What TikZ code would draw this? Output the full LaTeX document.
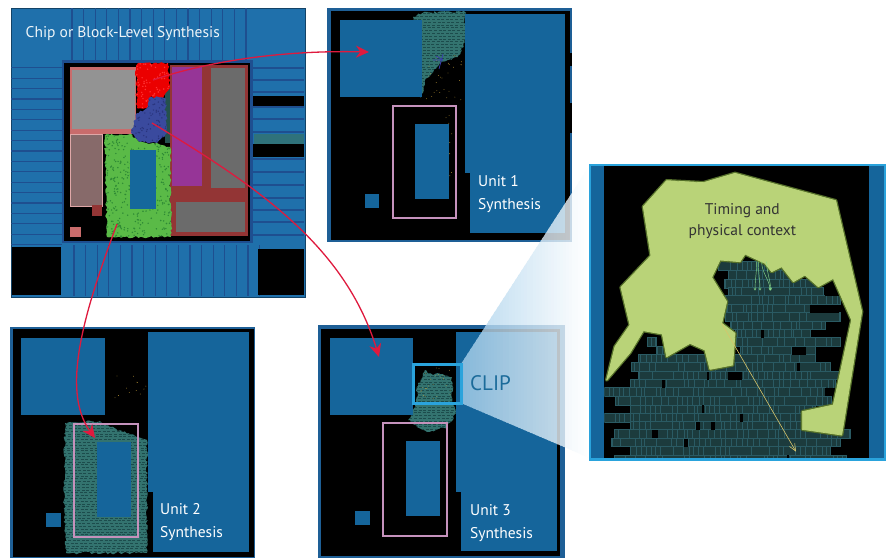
\documentclass[tikz,border=0pt]{standalone}
\usepackage{fontspec}
\setmainfont{PT Sans}
\usetikzlibrary{arrows.meta,decorations.pathmorphing}
\definecolor{chipblue}{HTML}{1F70AB}
\definecolor{chipline}{HTML}{1E4F90}
\definecolor{macroblue}{HTML}{15659B}
\definecolor{framepink}{HTML}{C592BC}
\definecolor{teal1}{HTML}{33736F}
\definecolor{teal2}{HTML}{1C4C4C}
\definecolor{cellfill}{HTML}{1C3B3D}
\definecolor{cellline}{HTML}{2A5A63}
\definecolor{arrowred}{HTML}{DF1A3E}
\definecolor{clipcyan}{HTML}{2AA3DC}
\definecolor{ctxgreen}{HTML}{B9D378}
\definecolor{ctxedge}{HTML}{55702A}
\definecolor{brick}{HTML}{933535}
\definecolor{chipgray}{HTML}{6B6B6B}
\definecolor{paleband}{HTML}{C96C6C}
\definecolor{mauve}{HTML}{876A6A}
\definecolor{purpleblock}{HTML}{963597}
\definecolor{blueblob}{HTML}{3A4A9E}
\definecolor{blueblobd}{HTML}{2A357E}
\definecolor{greenblob}{HTML}{5ABA47}
\definecolor{greenblobd}{HTML}{2E8A35}
\definecolor{innerblue}{HTML}{15689C}
\definecolor{panelframe}{HTML}{1E5F96}
\definecolor{markblue}{HTML}{3A3AB0}
\definecolor{fanleft}{HTML}{A5CFEB}
\definecolor{cliptext}{HTML}{1B6B9A}
\definecolor{pathyellow}{HTML}{D8C46A}
\definecolor{pathgreen}{HTML}{86D98A}
\definecolor{ctxtext}{HTML}{333333}
\definecolor{speck}{HTML}{C9A13A}
\tikzset{
  macro/.style={fill=macroblue},
  pinkframe/.style={draw=framepink,line width=1.1pt},
  panellabel/.style={text=white,font=\fontsize{15.5}{23}\selectfont,align=left,anchor=west,inner sep=0pt},
  redarrow/.style={draw=arrowred,line width=1.3pt,-{Stealth[length=13pt,width=12pt]}},
  rough/.style={decorate,decoration={random steps,segment length=2.2pt,amplitude=1.2pt}},
}
\newcommand{\tealcloud}[3]{%
  \begin{scope}
    \clip[rough] #1;
    \fill[teal1] (0,0) rectangle (886,558);
    \foreach \k in {0,...,#3}{%
      \pgfmathsetmacro\yy{#2+\k*2.8}%
      \pgfmathsetmacro\ph{random(0,5)}%
      \draw[teal2,line width=.7pt,dash pattern=on 3pt off 1.6pt,dash phase=\ph pt] (0,\yy) -- (886,\yy);
    }
  \end{scope}}
\newcommand{\blob}[8]{%
  \begin{scope}
    \clip[rough] #1;
    \fill[#2] (0,0) rectangle (886,558);
    \foreach \k in {1,...,#8}{%
      \pgfmathsetmacro\xx{#4+rnd*(#6-#4)}%
      \pgfmathsetmacro\yy{#5+rnd*(#7-#5)}%
      \fill[#3] (\xx,\yy) circle (.8pt);
    }
  \end{scope}}
\newcommand{\specks}[5]{%
  \foreach \k in {1,...,#5}{%
    \pgfmathsetmacro\xx{#1+rnd*(#3-#1)}%
    \pgfmathsetmacro\yy{#2+rnd*(#4-#2)}%
    \fill[speck] (\xx,\yy) circle (.4pt);
  }}
\begin{document}
\begin{tikzpicture}[x=1pt,y=-1pt]
\pgfmathsetseed{4242}
\useasboundingbox (0,0) rectangle (886,558);
\fill[white] (0,0) rectangle (886,558);

% ---------- Chip panel ----------
\fill[chipblue] (11,8) rectangle (305,297);
\draw[chipblue!60!black,line width=.6pt] (11,8) rectangle (305,297);
\foreach \k in {0,...,15}{\draw[chipline,line width=1.2pt] ({72+\k*11.6},8) -- ({72+\k*11.6},60);}
\foreach \k in {0,...,16}{\draw[chipline,line width=1.2pt] ({74+\k*11.6},245) -- ({74+\k*11.6},296);}
\foreach \k in {0,...,17}{\draw[chipline,line width=1.2pt] (11,{67.7+\k*10.4}) -- (62,{67.7+\k*10.4});}
\foreach \yy in {68,80,92,107,119,132,159,172,185,198,210,222,235}{\draw[chipline,line width=1.6pt] (253,\yy) -- (304,\yy);}
\fill[black] (252,96) rectangle (304,106);
\fill[black] (252,144) rectangle (304,157);
\fill[teal1!80!chipblue] (254,134) rectangle (304,144);
\fill[black] (12,247) rectangle (61,295);
\fill[black] (258,249) rectangle (304,295);
\fill[chipline] (62,60) rectangle (253,243);
\fill[black] (64,63) rectangle (250,241);
% macros of the chip
\fill[paleband] (70,67) rectangle (136,134);
\fill[gray!85!white] (72,70) rectangle (135,129);
\filldraw[fill=mauve,draw=paleband!60!white,line width=.5pt] (70,134) rectangle (102,206);
\fill[brick] (92,205) rectangle (102,216);
\fill[paleband] (70,227) rectangle (81,237);
\fill[brick] (170,65) rectangle (248,236);
\fill[purpleblock] (172,67) rectangle (202,186);
\fill[chipgray] (211,68) rectangle (245,188);
\fill[chipgray] (176,202) rectangle (245,232);
\fill[teal1!70!black] (165,88) rectangle (170,143);
\blob{(136,68) -- (138,63) -- (168,63) -- (170,87) -- (163,98) -- (150,97) -- (147,108) -- (137,108) -- cycle}{red!92!black}{red!80!white}{136}{63}{170}{108}{70}
\blob{(150,97) -- (165,98) -- (167,133) -- (157,143) -- (140,142) -- (131,133) -- (137,113) -- (147,108) -- cycle}{blueblob}{blueblobd}{131}{97}{167}{143}{90}
\blob{(105,135) -- (130,134) -- (139,142) -- (153,143) -- (170,147) -- (171,237) -- (107,237) -- cycle}{greenblob}{greenblobd}{105}{134}{171}{237}{350}
\fill[innerblue] (130,150) rectangle (156,209);
\node[text=white!92!chipblue,font=\fontsize{15.5}{19}\selectfont,anchor=west,inner sep=0pt] (chiplabel) at (25.5,34) {Chip or Block-Level Synthesis};

% ---------- Unit 1 ----------
\fill[panelframe] (327,8) rectangle (572,242);
\fill[black] (331,11) rectangle (570,240);
\fill[black] (570,53) rectangle (572,66);
\fill[black] (570,103) rectangle (572,133);
\tealcloud{(413,17) -- (424,12) -- (465,12) -- (465,42) -- (458,57) -- (440,63) -- (425,80) -- (421,98) -- cycle}{11}{32}
\specks{425}{55}{462}{100}{30}
\specks{445}{110}{452}{210}{10}
\draw[markblue,line width=.7pt] (433,60) -- (443,60) (439,69) -- (443,54) (443,60) -- (436,56);
\fill[macro] (340,20) rectangle (422,97);
\fill[macro] (465,14) rectangle (565,173);
\fill[macro] (470,173) rectangle (565,233);
\draw[pinkframe] (393,106) rectangle (456,218);
\fill[macro] (415,124) rectangle (449,199);
\fill[macro] (365,194) rectangle (379,208);
\node[panellabel] (unit1) at (478,194.5) {Unit 1\\Synthesis};

% ---------- Unit 2 ----------
\fill[panelframe] (10,327) rectangle (255,558);
\fill[black] (13,329) rectangle (254,557);
\tealcloud{(65,423) -- (100,421) -- (110,427) -- (128,433) -- (147,440) -- (147,553) -- (66,553) -- (64,500) -- cycle}{420}{49}
\specks{115}{372}{146}{400}{12}
\fill[macro] (21,338) rectangle (105,415);
\fill[macro] (148,332) rectangle (249,492);
\fill[macro] (153,492) rectangle (249,552);
\draw[pinkframe] (74,424) rectangle (138,537);
\fill[macro] (97,442) rectangle (131,517);
\fill[macro] (46,513) rectangle (61,527);
\node[panellabel] (unit2) at (160,522) {Unit 2\\Synthesis};

% ---------- Unit 3 ----------
\fill[panelframe] (318,325) rectangle (565,558);
\fill[black] (321,329) rectangle (560,556);
\tealcloud{(425,370) -- (433,375) -- (438,373) -- (452,377) -- (452,403) -- (456,413) -- (447,427) -- (427,432) -- (408,420) -- (417,403) -- (417,387) -- cycle}{368}{23}
\specks{420}{365}{452}{400}{24}
\fill[macro] (330,338) rectangle (413,415);
\fill[macro] (456,332) rectangle (557,492);
\fill[macro] (461,492) rectangle (557,551);
\draw[pinkframe] (383,423) rectangle (447,536);
\fill[macro] (406,441) rectangle (440,516);
\fill[macro] (355,511) rectangle (370,525);
\node[panellabel] (unit3) at (470,523) {Unit 3\\Synthesis};

% ---------- Zoom fan ----------
\coordinate (fanA) at (461,364);
\coordinate (fanB) at (461,403);
\coordinate (fanC) at (590,165);
\coordinate (fanD) at (590,458);
\begin{scope}[transparency group,opacity=.8]
  \clip (fanA) -- (fanC) -- (fanD) -- (fanB) -- cycle;
  \foreach \k in {0,...,42}{
    \pgfmathtruncatemacro\mixp{100-\k*100/42}
    \fill[fanleft!\mixp!white] ({461+\k*3},160) rectangle ({461+\k*3+4},465);
  }
\end{scope}
\path[draw=clipcyan,line width=3pt] (413,364) rectangle (461,403);
\node[text=cliptext,font=\fontsize{21}{24}\selectfont,anchor=west,inner sep=0pt] (clip) at (470,383) {CLIP};

% ---------- Context panel ----------
\fill[clipcyan] (589,164) rectangle (885.5,460.5);
\fill[macroblue] (591,166) rectangle (884,458);
\fill[black] (604,166) rectangle (869,458);
\begin{scope}[shift={(585,160)},x=.33333pt,y=-.33333pt]
  \begin{scope}
    \clip (58,18) rectangle (852,893);
    \foreach \yy/\a/\b in {305/400/590,332/430/625,358/418/700,382/430/715,407/420/765,432/425/675,457/420/765,483/435/720,508/450/675,532/188/215,532/450/765,558/215/240,558/465/620,558/660/690,583/160/690,607/140/735,633/160/465,633/470/765,658/135/750,683/58/720,710/90/740,735/135/690,760/58/650,785/135/650,808/88/795,834/78/765,860/135/735,885/88/785}{
      \begin{scope}
        \clip (\a,\yy) rectangle (\b,\yy+26);
        \fill[cellfill] (\a,\yy) rectangle (\b,\yy+26);
        \foreach \k in {0,...,52}{
          \pgfmathsetmacro\xx{50+\k*16+random(0,8)}
          \pgfmathtruncatemacro\on{random(0,2)}
          \ifnum\on>0 \draw[cellline,line width=.45pt] (\xx,\yy) -- (\xx,\yy+26);\fi
        }
      \end{scope}
      \draw[cellline,line width=.4pt] (\a,\yy) rectangle (\b,\yy+26);
    }
    \foreach \xx/\yy/\w in {230/660/10,365/635/8,430/635/40,528/510/8,465/762/8,350/735/6,332/785/12,378/785/12,200/810/18,298/836/12,605/885/6,635/610/10,620/560/42,675/435/88,720/385/45,720/685/30}{
      \fill[black] (\xx,\yy) rectangle (\xx+\w,\yy+24);
    }
  \end{scope}
  \path[draw=ctxedge,line width=3.4pt,line join=round]
    (245,62) -- (355,68) -- (450,40) -- (752,122) -- (830,455) -- (770,825) -- (652,808) -- (652,755) -- (745,735)
    -- (800,480) -- (745,355) -- (700,380) -- (660,345) -- (625,365) -- (590,320) -- (560,335) -- (540,310) -- (480,282)
    -- (465,305) -- (405,300) -- (380,352) -- (425,425) -- (410,490) -- (450,520) -- (443,615) -- (375,628) -- (360,570)
    -- (315,550) -- (245,590) -- (232,522) -- (175,512) -- (135,578) -- (65,660) -- (90,560) -- (135,495) -- (108,382)
    -- (198,287) -- (175,140) -- cycle;
  \path[draw=ctxgreen,line width=.8pt,line join=round,fill=ctxgreen]
    (245,62) -- (355,68) -- (450,40) -- (752,122) -- (830,455) -- (770,825) -- (652,808) -- (652,755) -- (745,735)
    -- (800,480) -- (745,355) -- (700,380) -- (660,345) -- (625,365) -- (590,320) -- (560,335) -- (540,310) -- (480,282)
    -- (465,305) -- (405,300) -- (380,352) -- (425,425) -- (410,490) -- (450,520) -- (443,615) -- (375,628) -- (360,570)
    -- (315,550) -- (245,590) -- (232,522) -- (175,512) -- (135,578) -- (65,660) -- (90,560) -- (135,495) -- (108,382)
    -- (198,287) -- (175,140) -- cycle;
  \coordinate (pathS) at (410,490);
  \coordinate (pathE) at (633,875);
  \draw[pathyellow,line width=.6pt,-{Straight Barb[length=7pt,width=6pt]}] (pathS) -- (pathE);
  \foreach \sx/\ex in {515/510,520/525,530/555,545/557}{
    \coordinate (gs) at (\sx,305);
    \coordinate (ge) at (\ex,392);
    \draw[pathgreen,line width=.45pt,-{Straight Barb[length=2.5pt,width=2.5pt]}] (gs) .. controls (\sx,340) and (\ex,360) .. (ge);
  }
  \node[text=ctxtext,font=\fontsize{15.5}{21}\selectfont,align=center,inner sep=0pt] (context) at (472,183) {Timing and\\physical context};
\end{scope}

% ---------- Red connectors ----------
\coordinate (fromRed) at (153,80);
\coordinate (toUnit1) at (369,52);
\coordinate (fromBlue) at (152,123);
\coordinate (toUnit3) at (379,357);
\coordinate (fromGreen) at (117,224);
\coordinate (toUnit2) at (95,438);
\draw[redarrow] (fromRed) .. controls (205,62) and (280,50) .. (toUnit1);
\draw[redarrow] (fromBlue) .. controls (255,185) and (345,245) .. (toUnit3);
\draw[redarrow] (fromGreen) .. controls (85,310) and (60,390) .. (toUnit2);
\end{tikzpicture}
\end{document}
